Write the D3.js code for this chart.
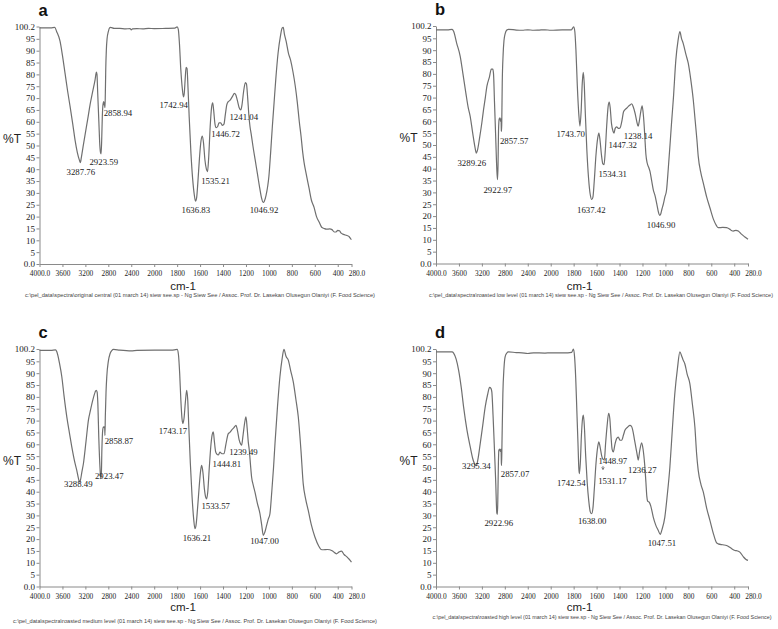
<!DOCTYPE html>
<html>
<head>
<meta charset="utf-8">
<script src="https://cdn.jsdelivr.net/npm/d3@7"></script>
<style>
	body { margin: 0; background: #fff; }
	svg { display: block; }
</style>
</head>
<body>
<div id="chart"></div>
<script>
// wavenumber (cm-1) tick values and %T tick values
var xTicks = [4000, 3600, 3200, 2800, 2400, 2000, 1800, 1600, 1400, 1200, 1000, 800, 600, 400, 280];
var yTicks = [0, 5, 10, 15, 20, 25, 30, 35, 40, 45, 50, 55, 60, 65, 70, 75, 80, 85, 90, 95, 100.2];
var panelLetters = ['a', 'b', 'c', 'd'];
var footnotes = [
	'c:\\pel_data\\spectra\\original central (01 march 14) siew see.sp - Ng Siew See / Assoc. Prof. Dr. Lasekan Olusegun Olaniyi (F. Food Science)',
	'c:\\pel_data\\spectra\\roasted low level (01 march 14) siew see.sp - Ng Siew See / Assoc. Prof. Dr. Lasekan Olusegun Olaniyi (F. Food Science)',
	'c:\\pel_data\\spectra\\roasted medium level (01 march 14) siew see.sp - Ng Siew See / Assoc. Prof. Dr. Lasekan Olusegun Olaniyi (F. Food Science)',
	'c:\\pel_data\\spectra\\roasted high level (01 march 14) siew see.sp - Ng Siew See / Assoc. Prof. Dr. Lasekan Olusegun Olaniyi (F. Food Science)'
];

// spectra: [wavenumber, %T]
var spectrumA = [[4000, 99.6], [3800, 99.6], [3735, 99.8], [3700, 98], [3642, 94], [3600, 88], [3555, 80.5], [3510, 73], [3467, 66.5], [3420, 59], [3380, 52.3], [3340, 47], [3300, 43.5], [3288, 42.8], [3270, 45], [3240, 49.5], [3205, 54.6], [3160, 61], [3118, 67.2], [3075, 72.5], [3031, 77.7], [3008, 81], [2998, 80], [2985, 72], [2965, 60], [2948, 50], [2936, 47], [2926, 46.5], [2916, 52], [2905, 62], [2892, 67.5], [2880, 68.5], [2872, 67], [2866, 68], [2862, 66.5], [2858, 66], [2852, 72], [2845, 82], [2835, 90], [2822, 95], [2800, 98], [2780, 99.6], [2760, 99.8], [2700, 99.4], [2600, 99.4], [2500, 99.2], [2420, 99.3], [2400, 98.8], [2380, 99.2], [2300, 99.3], [2200, 99.2], [2100, 99.4], [2000, 99.3], [1900, 99.4], [1820, 99.5], [1800, 100], [1790, 99], [1780, 93], [1768, 82], [1755, 74], [1745, 70.5], [1738, 72], [1730, 78], [1722, 83], [1714, 82.5], [1705, 74], [1695, 62], [1680, 47], [1665, 36], [1650, 29], [1640, 26.5], [1630, 28], [1620, 34], [1605, 45], [1592, 52], [1580, 54], [1570, 51], [1558, 44], [1545, 40], [1535, 39], [1525, 45], [1512, 58], [1500, 66], [1490, 68], [1482, 65], [1470, 59], [1460, 57.5], [1447, 58], [1435, 59.5], [1420, 59.5], [1405, 58.5], [1392, 59], [1380, 63], [1368, 67], [1355, 68.5], [1340, 69], [1320, 70.5], [1300, 72], [1290, 71.5], [1275, 69], [1260, 66], [1245, 65], [1235, 67], [1220, 73], [1205, 76.5], [1196, 76], [1185, 70], [1175, 63], [1165, 58], [1155, 55], [1140, 50], [1120, 44], [1100, 38], [1080, 32], [1065, 28], [1050, 26], [1040, 26.5], [1025, 29], [1010, 33], [1000, 37], [985, 47], [970, 58], [955, 68], [940, 78], [920, 89], [900, 96], [885, 99.5], [875, 99.8], [865, 97], [850, 94], [830, 89], [811, 86], [790, 81], [770, 75], [752, 68], [735, 60], [720, 54], [705, 47], [694, 43], [675, 38], [650, 32], [630, 27], [607, 24], [585, 20], [560, 17.5], [540, 15.5], [519, 15], [500, 14.7], [470, 14.8], [450, 14.5], [430, 13.5], [415, 13.5], [400, 14.2], [385, 14], [370, 13], [350, 12.5], [320, 12], [300, 11.5], [285, 10.5], [280, 10.3]];
var spectrumB = [[4000, 98.6], [3800, 98.6], [3720, 98.8], [3693, 98], [3640, 93], [3577, 87.3], [3530, 80], [3480, 72], [3440, 66], [3403, 62], [3360, 55], [3320, 49], [3298, 46.6], [3280, 47.5], [3240, 53], [3200, 59.5], [3171, 64.9], [3140, 70], [3113, 74.7], [3070, 78.5], [3035, 82], [3010, 82], [2997, 80], [2980, 68], [2960, 54], [2940, 40], [2928, 35.4], [2918, 42], [2910, 56], [2898, 61], [2885, 61.5], [2875, 60], [2866, 61], [2860, 56], [2856, 55.8], [2852, 62], [2845, 76], [2830, 88], [2815, 94], [2794, 97], [2765, 98.5], [2736, 98.8], [2600, 98.5], [2500, 98.4], [2400, 98.6], [2300, 98.4], [2200, 98.5], [2100, 98.6], [2000, 98.4], [1900, 98.6], [1820, 98.6], [1800, 99.8], [1790, 98], [1780, 90], [1768, 75], [1755, 63], [1745, 58], [1735, 64], [1725, 76], [1716, 80.6], [1708, 76], [1698, 63], [1685, 48], [1670, 36], [1655, 29], [1642, 27], [1632, 28], [1620, 35], [1605, 46], [1590, 53], [1580, 55], [1570, 52], [1558, 46], [1545, 42], [1535, 41.7], [1525, 47], [1512, 58], [1500, 66], [1490, 68.1], [1482, 66], [1470, 59], [1458, 56], [1448, 55], [1438, 57], [1425, 57.6], [1410, 57], [1396, 57.2], [1380, 60], [1365, 64], [1352, 64.9], [1338, 65.5], [1323, 66.3], [1305, 67], [1294, 67.4], [1280, 66], [1265, 63.5], [1250, 60], [1238, 57.9], [1228, 60], [1215, 64], [1203, 66.5], [1195, 64], [1185, 58], [1179, 53], [1170, 46], [1159, 42.4], [1145, 40.5], [1135, 39], [1120, 35], [1106, 31.2], [1090, 28.5], [1077, 25.6], [1060, 21.5], [1050, 20.3], [1040, 21], [1030, 23], [1019, 24.9], [1005, 28], [990, 31], [975, 40], [960, 50], [947, 59], [930, 70], [909, 85.9], [890, 94], [874, 97.8], [860, 95], [845, 92.9], [820, 88], [801, 84.5], [780, 78], [757, 69], [740, 60], [725, 52], [714, 45.3], [690, 38], [670, 34], [640, 28], [612, 23.5], [580, 18.5], [555, 16], [540, 15.1], [500, 15.2], [467, 15.1], [440, 14.5], [420, 13.8], [409, 13.7], [385, 14], [365, 13.7], [340, 12.5], [310, 11.3], [280, 10.2]];
var spectrumC = [[4000, 99.6], [3800, 99.6], [3720, 99.8], [3698, 99], [3650, 94], [3611, 88.5], [3570, 80], [3524, 71.6], [3480, 65], [3437, 58.9], [3390, 53], [3350, 49], [3320, 45.5], [3303, 44.1], [3285, 45], [3260, 48.5], [3234, 51.9], [3190, 61], [3147, 70.2], [3110, 74.5], [3071, 78.6], [3030, 82], [3013, 82.8], [2995, 82], [2984, 78], [2965, 62], [2945, 50], [2932, 45.5], [2922, 47], [2912, 58], [2898, 66], [2885, 67.4], [2870, 67], [2864, 67.5], [2859, 63.8], [2852, 72], [2840, 82], [2827, 88.5], [2800, 95], [2769, 98.3], [2740, 99.5], [2711, 100], [2600, 99.7], [2400, 99.4], [2300, 99.6], [2000, 99.7], [1850, 99.7], [1800, 100], [1789, 98], [1778, 90], [1768, 79], [1758, 71], [1750, 68.8], [1740, 71], [1728, 78], [1717, 82.8], [1708, 79], [1698, 67], [1685, 52], [1670, 38], [1655, 28], [1645, 24.4], [1635, 26], [1622, 33], [1608, 42], [1595, 49], [1586, 51.1], [1575, 48], [1562, 41], [1550, 37.5], [1543, 37], [1533, 40], [1520, 50], [1505, 60], [1495, 64], [1485, 65.2], [1475, 61], [1465, 57], [1456, 56], [1440, 55.5], [1427, 56.7], [1410, 56], [1392, 56], [1375, 60], [1354, 64.5], [1340, 65], [1325, 66], [1305, 67], [1287, 68], [1275, 66], [1260, 62], [1245, 60], [1238, 59.6], [1225, 64], [1210, 69.5], [1200, 71.6], [1190, 67], [1180, 61], [1171, 57.5], [1160, 51], [1151, 46.2], [1135, 42.5], [1122, 39.9], [1100, 35], [1078, 30.7], [1063, 26], [1049, 21.6], [1035, 23], [1020, 25.8], [1005, 28.5], [991, 30.7], [975, 40], [960, 50], [947, 60.3], [925, 76], [904, 88.5], [885, 96], [869, 100], [850, 97], [831, 95.5], [810, 91], [788, 86.4], [765, 79], [744, 71.6], [720, 57], [701, 43.4], [680, 37], [657, 32.1], [630, 26], [599, 20.9], [565, 17], [545, 15.6], [527, 15.5], [490, 15.6], [469, 15.5], [440, 14.8], [411, 13.8], [390, 14.5], [367, 14.9], [345, 13.5], [320, 12.5], [300, 11.5], [280, 10.3]];
var spectrumD = [[4000, 99], [3800, 99], [3720, 99], [3693, 98.5], [3650, 96], [3606, 91.3], [3560, 84], [3519, 75.8], [3460, 66], [3403, 58.9], [3360, 54], [3316, 51.3], [3295, 51], [3270, 53.5], [3229, 60.3], [3185, 68], [3142, 75.8], [3100, 81], [3066, 84], [3040, 83.5], [3026, 82], [3005, 72], [2985, 60.3], [2960, 45], [2939, 31], [2928, 30.5], [2920, 40], [2912, 52], [2904, 57.5], [2890, 58], [2878, 57], [2866, 58], [2860, 52], [2857, 51], [2850, 60], [2834, 81.4], [2815, 92], [2794, 97], [2765, 98.5], [2736, 99], [2600, 98.7], [2500, 98.6], [2400, 98.3], [2300, 98.6], [2100, 98.5], [2000, 98.6], [1850, 98.6], [1817, 98.8], [1802, 100.2], [1792, 97], [1782, 88], [1772, 74], [1762, 60], [1755, 50], [1750, 47.6], [1742, 52], [1732, 64], [1722, 71], [1715, 72.3], [1706, 67], [1695, 55], [1682, 44], [1668, 36], [1655, 31.5], [1643, 30.7], [1632, 33], [1620, 41], [1605, 52], [1590, 59], [1580, 61], [1570, 59], [1555, 55], [1540, 53.5], [1531, 54], [1522, 60], [1508, 68], [1495, 73], [1485, 71], [1475, 64], [1465, 58], [1454, 56.8], [1440, 60], [1425, 62.4], [1411, 63], [1395, 61.7], [1381, 61.7], [1365, 64], [1352, 66], [1330, 67.2], [1309, 68], [1295, 67.5], [1285, 66], [1270, 62], [1255, 58], [1244, 55], [1237, 53.3], [1225, 57], [1207, 60.6], [1195, 58], [1180, 51], [1170, 44], [1162, 38], [1155, 36], [1140, 35.5], [1128, 34], [1106, 29.3], [1085, 26], [1063, 23.7], [1045, 22], [1030, 24], [1005, 29.3], [985, 38], [961, 50.4], [940, 66], [918, 81.4], [895, 92], [874, 99], [860, 97.5], [845, 95.5], [831, 94], [810, 89.5], [787, 85.6], [765, 77], [743, 67.3], [728, 56], [714, 49], [690, 43], [670, 39.9], [640, 33], [612, 27.9], [580, 22], [555, 18.5], [540, 18], [500, 17.6], [467, 17.3], [430, 16.2], [394, 15.2], [370, 15], [351, 14.5], [320, 12.5], [300, 11.5], [280, 11]];

// labelled peaks: [wavenumber, %T at the band]
var peaksA = [[3287.76, 43], [2923.59, 46.5], [2858.94, 66], [1742.94, 70.5], [1636.83, 26.5], [1535.21, 39], [1446.72, 58], [1241.04, 65], [1046.92, 26]];
var peaksB = [[3289.26, 46.5], [2922.97, 35.4], [2857.57, 55.8], [1743.70, 57.9], [1637.42, 27], [1534.31, 41.7], [1447.32, 55], [1238.14, 57.9], [1046.90, 20.3]];
var peaksC = [[3288.49, 44], [2923.47, 45.5], [2858.87, 63.8], [1743.17, 68.8], [1636.21, 24.4], [1533.57, 37], [1444.81, 56], [1239.49, 59.6], [1047.00, 21.6]];
var peaksD = [[3295.34, 51], [2922.96, 30], [2857.07, 51], [1742.54, 47.6], [1638.00, 30.7], [1531.17, 54], [1448.97, 56.8], [1236.27, 53.3], [1047.51, 22]];

(function () {
	var width = 778;
	var height = 629;
	var plotWidth = 312;
	var plotHeight = 237.5;
	var lineColor = '#6f6f6f';
	var axisColor = '#8a8a8a';
	var fontColor = '#222';
	var serif = '"Liberation Serif", "Times New Roman", serif';
	var sans = '"Liberation Sans", Arial, sans-serif';

	// label nudges (px) from the band point to the label's middle/baseline
	var offsetsA = [[0.5, 12.5], [2.5, 11.5], [13, 8], [-10, 11], [0, 12], [8, 12], [8, 10.5], [2.5, 10], [0.5, 11]];
	var offsetsB = [[-5, 13], [0, 13.5], [12.7, 13], [-9.4, 11], [-1, 13], [8.6, 12], [8.6, 15], [0, 13], [1, 12.5]];
	var offsetsC = [[-2, 5], [8, 0.5], [14, 9], [-10.7, 11], [1, 12.4], [8, 10], [9, 13.7], [2, 10], [1, 8.5]];
	var offsetsD = [[0, 3], [1, 11], [13.5, 11], [-9, 12.6], [0, 10], [8, 25], [-1, 12], [4, 13], [2, 12]];

	var panels = [
		{ spectrum: spectrumA, peaks: peaksA, offsets: offsetsA, left: 39.5, top: 26.5, cmY: 290, footX: 200, footY: 296.5, footW: 350 },
		{ spectrum: spectrumB, peaks: peaksB, offsets: offsetsB, left: 436, top: 26, cmY: 290, footX: 601, footY: 297, footW: 344 },
		{ spectrum: spectrumC, peaks: peaksC, offsets: offsetsC, left: 39.5, top: 349, cmY: 611, footX: 195, footY: 623, footW: 364 },
		{ spectrum: spectrumD, peaks: peaksD, offsets: offsetsD, left: 436, top: 349, cmY: 611, footX: 602, footY: 618.5, footW: 339 }
	];

	// the instrument doubles the scale below 2000 cm-1
	var x = d3.scaleLinear()
		.domain([4000, 2000, 280])
		.range([0, plotWidth * 2000 / 5440, plotWidth]);
	var y = d3.scaleLinear()
		.domain([0, 100.2])
		.range([plotHeight, 0]);

	var line = d3.line()
		.x(d => x(d[0]))
		.y(d => y(d[1]))
		.curve(d3.curveMonotoneX);

	var svg = d3.select('#chart')
		.append('svg')
		.attr('width', width).attr('height', height);

	panels.forEach((p, i) => {
		var g = svg.append('g')
			.attr('transform', 'translate(' + [p.left, p.top] + ')');

		// axes
		var yAxis = g.append('g')
			.call(d3.axisLeft(y)
				.tickValues(yTicks)
				.tickSize(3)
				.tickSizeOuter(0)
				.tickFormat(d => d === 0 ? '0.0' : String(d)));
		var xAxis = g.append('g')
			.attr('transform', 'translate(0,' + plotHeight + ')')
			.call(d3.axisBottom(x)
				.tickValues(xTicks)
				.tickSize(3)
				.tickSizeOuter(0)
				.tickFormat(d => (d === 4000 || d === 280) ? d.toFixed(1) : String(d)));

		[yAxis, xAxis].forEach(ax => {
			ax.select('.domain').attr('stroke', axisColor).attr('stroke-width', 1);
			ax.selectAll('.tick line').attr('stroke', axisColor);
			ax.selectAll('.tick text')
				.attr('fill', fontColor)
				.attr('font-family', serif)
				.attr('font-size', 9);
		});
		yAxis.selectAll('.tick text').attr('x', -4.5);
		xAxis.selectAll('.tick text')
			.attr('y', 6)
			.attr('transform', d => 'translate(' + (d === 280 ? 5 : 0) + ',0) scale(0.82,1)');

		// spectrum
		g.append('path')
			.datum(p.spectrum)
			.attr('fill', 'none')
			.attr('stroke', lineColor)
			.attr('stroke-width', 1.2)
			.attr('stroke-linejoin', 'round')
			.attr('d', line);

		// band labels
		g.selectAll('.peak')
			.data(p.peaks)
			.enter().append('text')
			.classed('peak', true)
			.attr('x', (d, j) => x(d[0]) + p.offsets[j][0])
			.attr('y', (d, j) => y(d[1]) + p.offsets[j][1])
			.attr('text-anchor', 'middle')
			.attr('font-family', serif)
			.attr('font-size', 8.8)
			.attr('fill', fontColor)
			.text(d => d[0].toFixed(2));

		// small arrow under the 1448.97 label in panel d
		if (i === 3) {
			var band = p.peaks[5];
			g.append('path')
				.attr('transform', 'translate(' + [x(band[0]) - 1.5, y(band[1]) + 11] + ')')
				.attr('d', 'M-1.3,-2.2 L0,0 L1.3,-2.2 M0,0 V-3.5')
				.attr('fill', 'none')
				.attr('stroke', '#555')
				.attr('stroke-width', 0.7);
		}

		// titles
		g.append('text')
			.attr('x', -1)
			.attr('y', -11)
			.attr('font-family', sans)
			.attr('font-weight', 'bold')
			.attr('font-size', 16.5)
			.attr('fill', '#111')
			.text(panelLetters[i]);
		g.append('text')
			.attr('x', -36.5)
			.attr('y', 116)
			.attr('font-family', sans)
			.attr('font-size', 12)
			.attr('fill', fontColor)
			.text('%T');
		svg.append('text')
			.attr('x', p.left + 143.5)
			.attr('y', p.cmY)
			.attr('text-anchor', 'middle')
			.attr('font-family', sans)
			.attr('font-size', 11.5)
			.attr('fill', fontColor)
			.text('cm-1');

		svg.append('text')
			.attr('x', p.footX)
			.attr('y', p.footY)
			.attr('text-anchor', 'middle')
			.attr('font-family', sans)
			.attr('font-size', 4.6)
			.attr('fill', '#444')
			.attr('textLength', p.footW)
			.attr('lengthAdjust', 'spacingAndGlyphs')
			.text(footnotes[i]);
	});
})();
</script>
</body>
</html>
